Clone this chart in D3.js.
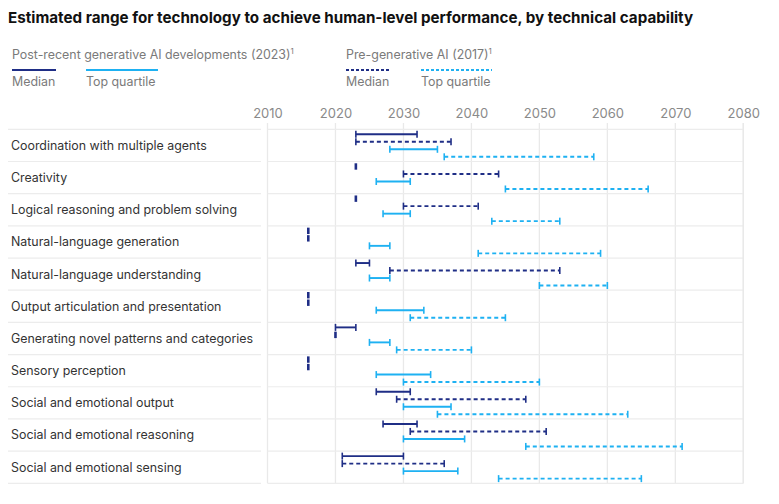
<!DOCTYPE html>
<html><head><meta charset="utf-8">
<script src="https://cdn.jsdelivr.net/npm/d3@7"></script>
<style>
body{margin:0;background:#fff;}
text{font-family:Inter,"Noto Sans",sans-serif;}
</style></head>
<body><svg id="c" width="779" height="504"></svg>
<script>
const categories = [
  "Coordination with multiple agents",
  "Creativity",
  "Logical reasoning and problem solving",
  "Natural-language generation",
  "Natural-language understanding",
  "Output articulation and presentation",
  "Generating novel patterns and categories",
  "Sensory perception",
  "Social and emotional output",
  "Social and emotional reasoning",
  "Social and emotional sensing"
];
// [start, end] years
const median2023 = [[2023,2032],[2023,2023],[2023,2023],[2016,2016],[2023,2025],[2016,2016],[2020,2023],[2016,2016],[2026,2031],[2027,2032],[2021,2030]];
const median2017 = [[2023,2037],[2030,2044],[2030,2041],[2016,2016],[2028,2053],[2016,2016],[2020,2020],[2016,2016],[2029,2048],[2031,2051],[2021,2036]];
const topQuartile2023 = [[2028,2035],[2026,2031],[2027,2031],[2025,2028],[2025,2028],[2026,2033],[2025,2028],[2026,2034],[2030,2037],[2030,2039],[2030,2038]];
const topQuartile2017 = [[2036,2058],[2045,2066],[2043,2053],[2041,2059],[2050,2060],[2031,2045],[2029,2040],[2030,2050],[2035,2063],[2048,2071],[2044,2065]];
const tickYears = [2010,2020,2030,2040,2050,2060,2070,2080];

const DARK = "#1f2e86", LIGHT = "#1eb1f2";
const series = [
  {data: median2023, color: DARK, dash: null},
  {data: median2017, color: DARK, dash: "4,3"},
  {data: topQuartile2023, color: LIGHT, dash: null},
  {data: topQuartile2017, color: LIGHT, dash: "4,3"}
];

const svg = d3.select("#c");
const x = d3.scaleLinear().domain([2010,2080]).range([267.5,743.3]);
const y = d3.scaleBand().domain(categories).range([129.3,483.3]).padding(0);
const sub = d3.scalePoint().domain(d3.range(4)).range([5,27.5]);

// title
svg.append("text").attr("x",8).attr("y",23).attr("font-size",15.2).attr("font-weight",700).attr("fill","#111")
  .text("Estimated range for technology to achieve human-level performance, by technical capability");

// legend
const lg = svg.append("g");
lg.append("text").attr("x",12).attr("y",59).attr("font-size",12.4).attr("fill","#7a7a7a").text("Post-recent generative AI developments (2023)")
  .append("tspan").attr("font-size",8).attr("dy",-5).text("1");
lg.append("text").attr("x",346).attr("y",59).attr("font-size",12.4).attr("fill","#7a7a7a").text("Pre-generative AI (2017)")
  .append("tspan").attr("font-size",8).attr("dy",-5).text("1");
const legItems = [
  {x1:12,x2:56,color:DARK,dash:null,label:"Median"},
  {x1:86,x2:158,color:LIGHT,dash:null,label:"Top quartile"},
  {x1:346,x2:391,color:DARK,dash:"3,2",label:"Median"},
  {x1:421,x2:492,color:LIGHT,dash:"3,2",label:"Top quartile"}
];
legItems.forEach(d=>{
  lg.append("line").attr("x1",d.x1).attr("x2",d.x2).attr("y1",70).attr("y2",70)
    .attr("stroke",d.color).attr("stroke-width",2).attr("stroke-dasharray",d.dash);
  lg.append("text").attr("x",d.x1).attr("y",86).attr("font-size",12.4).attr("fill","#7a7a7a").text(d.label);
});

// grid verticals
svg.append("g").selectAll("line").data(tickYears).join("line")
  .attr("x1",d=>x(d)).attr("x2",d=>x(d)).attr("y1",123).attr("y2",483.3)
  .attr("stroke","#e9e9e9").attr("stroke-width",1.3);

// axis
const ax = svg.append("g").attr("transform","translate(0,118)")
  .call(d3.axisTop(x).tickValues(tickYears).tickFormat(d3.format("d")).tickSize(0).tickPadding(0));
ax.select(".domain").remove();
ax.selectAll("text").attr("font-size",13).attr("fill","#8a8a8a").attr("font-family","Inter,sans-serif").attr("dy",0);

// row separators
const seps = categories.map(c=>y(c)).concat([y.range()[1]]);
svg.append("g").selectAll("line").data(seps).join("line")
  .attr("x1",8).attr("x2",261).attr("y1",d=>d).attr("y2",d=>d).attr("stroke","#ececec").attr("stroke-width",1.2);
svg.append("g").selectAll("line").data(seps).join("line")
  .attr("x1",267.5).attr("x2",743.3).attr("y1",d=>d).attr("y2",d=>d).attr("stroke","#ececec").attr("stroke-width",1.2);
svg.append("line").attr("x1",743.3).attr("x2",743.3).attr("y1",123).attr("y2",483.3).attr("stroke","#e9e9e9").attr("stroke-width",1.3);

// labels
svg.append("g").selectAll("text").data(categories).join("text")
  .attr("x",11).attr("y",d=>y(d)+20.5).attr("font-size",12.4).attr("fill","#333").text(d=>d);

// ranges
series.forEach((s,si)=>{
  const g = svg.append("g");
  s.data.forEach((r,i)=>{
    const yy = y(categories[i]) + sub(si);
    const x1 = x(r[0]), x2 = x(r[1]);
    if (r[1] > r[0]) {
      g.append("line").attr("x1",x1).attr("x2",x2).attr("y1",yy).attr("y2",yy)
        .attr("stroke",s.color).attr("stroke-width",1.9).attr("stroke-dasharray",s.dash);
      [x1,x2].forEach(xx=>g.append("line").attr("x1",xx).attr("x2",xx).attr("y1",yy-3.5).attr("y2",yy+3.5)
        .attr("stroke",s.color).attr("stroke-width",1.6));
    } else {
      g.append("line").attr("x1",x1).attr("x2",x1).attr("y1",yy-3.2).attr("y2",yy+3.2)
        .attr("stroke",s.color).attr("stroke-width",2.6);
    }
  });
});
</script></body></html>
